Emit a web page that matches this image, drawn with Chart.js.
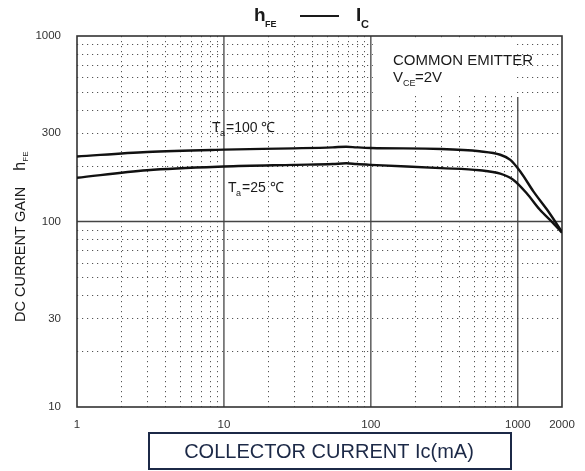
<!DOCTYPE html>
<html>
<head>
<meta charset="utf-8">
<script src="https://cdn.jsdelivr.net/npm/chart.js@4/dist/chart.umd.min.js"></script>
<style>
  html, body { margin: 0; padding: 0; background: #fff; }
  #wrap { width: 585px; height: 471px; }
</style>
</head>
<body>
<div id="wrap"><canvas id="hfeChart" width="585" height="471"></canvas></div>
<script>
// 数据
const currentTa100 = [1, 3, 10, 30, 55, 68, 80, 100, 300, 550, 760, 890, 1040, 1280, 1580, 2000];
const hfeTa100     = [224, 237, 244, 248, 251, 253, 251, 249, 246, 239, 229, 215, 186, 145, 116, 88];
const currentTa25  = [1, 3, 10, 30, 55, 68, 80, 100, 300, 550, 760, 930, 1150, 1410, 1740, 2000];
const hfeTa25      = [172, 189, 198, 202, 204, 206, 204, 202, 194, 189, 181, 168, 142, 116, 98, 87];
const xTickValues  = [1, 10, 100, 1000, 2000];
const yTickValues  = [10, 30, 100, 300, 1000];

const toPoints = (xs, ys) => xs.map((x, i) => ({ x: x, y: ys[i] }));
const FONT = 'Arial, "Liberation Sans", sans-serif';

// 网格和文字
const gridPlugin = {
    id: 'gridPlugin',
    beforeDatasetsDraw(chart) {
        const { ctx, chartArea: a, scales: { x, y } } = chart;
        ctx.save();
        // 点状次网格
        ctx.strokeStyle = '#555';
        ctx.lineWidth = 1;
        ctx.setLineDash([1.2, 3.8]);
        for (const d of [1, 10, 100]) {
            for (let k = 2; k <= 9; k++) {
                const px = Math.round(x.getPixelForValue(d * k)) + 0.5;
                ctx.beginPath(); ctx.moveTo(px, a.top); ctx.lineTo(px, a.bottom); ctx.stroke();
            }
        }
        for (const d of [10, 100]) {
            for (let k = 2; k <= 9; k++) {
                const py = Math.round(y.getPixelForValue(d * k)) + 0.5;
                ctx.beginPath(); ctx.moveTo(a.left, py); ctx.lineTo(a.right, py); ctx.stroke();
            }
        }
        ctx.setLineDash([]);
        // 注释文字的白底
        ctx.fillStyle = '#fff';
        const wx0 = x.getPixelForValue(100) + 2;
        const wx1 = x.getPixelForValue(1000) - 1;
        ctx.fillRect(wx0, a.top + 2, wx1 - wx0, 58);
        // 主网格
        ctx.strokeStyle = '#444';
        ctx.lineWidth = 1.3;
        for (const v of [10, 100]) {
            const px = x.getPixelForValue(v);
            ctx.beginPath(); ctx.moveTo(px, a.top); ctx.lineTo(px, a.bottom); ctx.stroke();
        }
        const p1000 = x.getPixelForValue(1000);
        ctx.beginPath(); ctx.moveTo(p1000, a.top + 61); ctx.lineTo(p1000, a.bottom); ctx.stroke();
        const p100 = y.getPixelForValue(100);
        ctx.beginPath(); ctx.moveTo(a.left, p100); ctx.lineTo(a.right, p100); ctx.stroke();
        // 边框
        ctx.lineWidth = 1.6;
        ctx.strokeStyle = '#333';
        ctx.strokeRect(a.left, a.top, a.right - a.left, a.bottom - a.top);
        ctx.restore();
    },
    afterDraw(chart) {
        const { ctx } = chart;
        ctx.save();
        ctx.fillStyle = '#1a1a1a';
        ctx.textBaseline = 'alphabetic';

        // 标题 hFE —— Ic
        ctx.font = 'bold 19px ' + FONT;
        ctx.fillText('h', 254, 21);
        ctx.font = 'bold 9px ' + FONT;
        ctx.fillText('FE', 265, 27);
        ctx.fillRect(300, 15, 39, 2);
        ctx.font = 'bold 19px ' + FONT;
        ctx.fillText('I', 356, 21);
        ctx.font = 'bold 11px ' + FONT;
        ctx.fillText('C', 361, 28);

        // 注释
        ctx.font = '15px ' + FONT;
        ctx.fillText('COMMON EMITTER', 393, 65);
        ctx.fillText('V', 393, 82);
        ctx.font = '9px ' + FONT;
        ctx.fillText('CE', 403, 86);
        ctx.font = '15px ' + FONT;
        ctx.fillText('=2V', 415, 82);

        // 温度标签
        const label = (tx, ty, val) => {
            ctx.font = '14px ' + FONT;
            ctx.fillText('T', tx, ty);
            ctx.font = '9px ' + FONT;
            ctx.fillText('a', tx + 8, ty + 4);
            ctx.font = '14px ' + FONT;
            ctx.fillText('=' + val + ' ℃', tx + 14, ty);
        };
        label(212, 132, 100);
        label(228, 192, 25);

        // Y轴标题
        ctx.save();
        ctx.translate(25, 322);
        ctx.rotate(-Math.PI / 2);
        ctx.textAlign = 'left';
        ctx.font = '14.5px ' + FONT;
        const main = 'DC CURRENT GAIN';
        const w = ctx.measureText(main).width;
        ctx.fillText(main, 0, 0);
        ctx.font = '16px ' + FONT;
        ctx.fillText('h', w + 16, 0);
        ctx.font = '8px ' + FONT;
        ctx.fillText('FE', w + 25, 3);
        ctx.restore();

        // X轴标题框
        ctx.strokeStyle = '#1c2947';
        ctx.lineWidth = 2;
        ctx.strokeRect(149, 433, 362, 36);
        ctx.fillStyle = '#1c2947';
        ctx.textAlign = 'center';
        ctx.font = '20px ' + FONT;
        ctx.fillText('COLLECTOR CURRENT Ic(mA)', 329, 458);
        ctx.restore();
    }
};

const chart = new Chart(document.getElementById('hfeChart'), {
    type: 'line',
    data: {
        datasets: [{
            label: 'Ta=100',
            data: toPoints(currentTa100, hfeTa100),
            borderColor: '#111',
            borderWidth: 2.4,
            pointRadius: 0,
            cubicInterpolationMode: 'monotone',
            fill: false
        }, {
            label: 'Ta=25',
            data: toPoints(currentTa25, hfeTa25),
            borderColor: '#111',
            borderWidth: 2.4,
            pointRadius: 0,
            cubicInterpolationMode: 'monotone',
            fill: false
        }]
    },
    options: {
        responsive: false,
        animation: false,
        devicePixelRatio: 1,
        layout: { padding: { top: 36, right: 23, left: 0, bottom: 0 } },
        plugins: { legend: { display: false }, tooltip: { enabled: false } },
        scales: {
            x: {
                type: 'logarithmic',
                min: 1,
                max: 2000,
                afterBuildTicks: scale => { scale.ticks = xTickValues.map(v => ({ value: v })); },
                afterFit: scale => { scale.height = 64; },
                ticks: {
                    callback: v => String(v),
                    color: '#333',
                    font: { family: FONT, size: 11.5 },
                    padding: 3,
                    maxRotation: 0,
                    autoSkip: false
                },
                grid: { display: false },
                border: { display: false }
            },
            y: {
                type: 'logarithmic',
                min: 10,
                max: 1000,
                afterBuildTicks: scale => { scale.ticks = yTickValues.map(v => ({ value: v })); },
                afterFit: scale => { scale.width = 77; },
                ticks: {
                    callback: v => String(v),
                    color: '#333',
                    font: { family: FONT, size: 11.5 },
                    padding: 8,
                    autoSkip: false
                },
                grid: { display: false },
                border: { display: false }
            }
        }
    },
    plugins: [gridPlugin]
});
</script>
</body>
</html>
